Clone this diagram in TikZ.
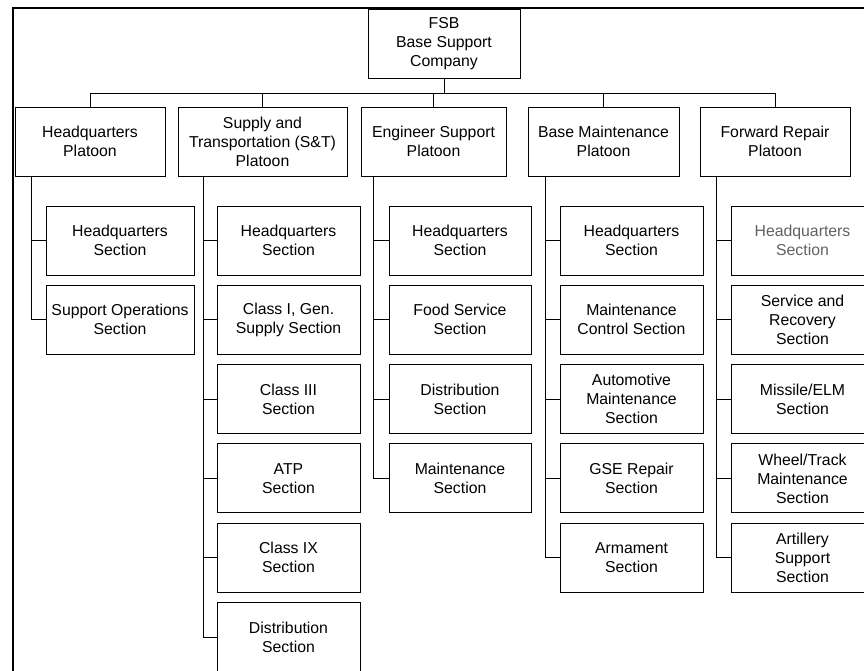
\documentclass[tikz,border=0pt]{standalone}
\usepackage{fontspec}
\setmainfont{Liberation Sans}
\begin{document}
\begin{tikzpicture}[x=1pt, y=-1pt, line width=1pt,
    every node/.style={font=\fontsize{15.8}{19}\selectfont, align=center},
    unit/.style={draw, minimum height=69pt, inner sep=1pt},
    plt/.style={unit, minimum width=150pt},
    sec/.style={unit, minimum width=143pt}]
    \useasboundingbox (0,0) rectangle (864,670);
    \clip (0,0) rectangle (864,670);

    % Frame
    \draw[line width=1.8pt] (13,680) -- (13,8) -- (880,8);

    % Company
    \node[unit, minimum width=152pt] (fsb) at (444,43.5) {FSB\\Base Support\\Company};

    % Platoons
    \node[plt] (hqp) at (90,141.5) {Headquarters\\Platoon};
    \node[plt, minimum width=169pt] (stp) at (262.5,141.5) {Supply and\\Transportation (S\&T)\\Platoon};
    \node[plt, minimum width=145pt] (esp) at (433.5,141.5) {Engineer Support\\Platoon};
    \node[plt, minimum width=151pt] (bmp) at (603.5,141.5) {Base Maintenance\\Platoon};
    \node[plt] (frp) at (775,141.5) {Forward Repair\\Platoon};

    % Headquarters platoon sections
    \node[sec, minimum width=148pt] (hq1) at (120,240.5) {Headquarters\\Section};
    \node[sec, minimum width=148pt] (hq2) at (120,319.8) {Support Operations\\Section};

    % S&T sections
    \node[sec] (st1) at (288.5,240.5) {Headquarters\\Section};
    \node[sec] (st2) at (288.5,319.8) {Class I, Gen.\\Supply Section};
    \node[sec] (st3) at (288.5,399.1) {Class III\\Section};
    \node[sec] (st4) at (288.5,478.4) {ATP\\Section};
    \node[sec] (st5) at (288.5,557.7) {Class IX\\Section};
    \node[sec] (st6) at (288.5,637) {Distribution\\Section};

    % Engineer support sections
    \node[sec, minimum width=142pt] (es1) at (460,240.5) {Headquarters\\Section};
    \node[sec, minimum width=142pt] (es2) at (460,319.8) {Food Service\\Section};
    \node[sec, minimum width=142pt] (es3) at (460,399.1) {Distribution\\Section};
    \node[sec, minimum width=142pt] (es4) at (460,478.4) {Maintenance\\Section};

    % Base maintenance sections
    \node[sec] (bm1) at (631.5,240.5) {Headquarters\\Section};
    \node[sec] (bm2) at (631.5,319.8) {Maintenance\\Control Section};
    \node[sec] (bm3) at (631.5,399.1) {Automotive\\Maintenance\\Section};
    \node[sec] (bm4) at (631.5,478.4) {GSE Repair\\Section};
    \node[sec] (bm5) at (631.5,557.7) {Armament\\Section};

    % Forward repair sections
    \node[sec, text=black!62] (fr1) at (802.5,240.5) {Headquarters\\Section};
    \node[sec] (fr2) at (802.5,319.8) {Service and\\Recovery\\Section};
    \node[sec] (fr3) at (802.5,399.1) {Missile/ELM\\Section};
    \node[sec] (fr4) at (802.5,478.4) {Wheel/Track\\Maintenance\\Section};
    \node[sec] (fr5) at (802.5,557.7) {Artillery\\Support\\Section};

    % Company to platoons
    \draw (fsb.south) -- ++(0,14.5) -| (hqp.north)
          (fsb.south) -- ++(0,14.5) -| (stp.north)
          (fsb.south) -- ++(0,14.5) -| (esp.north)
          (fsb.south) -- ++(0,14.5) -| (bmp.north)
          (fsb.south) -- ++(0,14.5) -| (frp.north);

    % Platoons to sections
    \draw (hqp.south west) ++(17,0) |- (hq1.west)
          (hqp.south west) ++(17,0) |- (hq2.west);
    \draw (stp.south west) ++(26,0) |- (st1.west)
          (stp.south west) ++(26,0) |- (st2.west)
          (stp.south west) ++(26,0) |- (st3.west)
          (stp.south west) ++(26,0) |- (st4.west)
          (stp.south west) ++(26,0) |- (st5.west)
          (stp.south west) ++(26,0) |- (st6.west);
    \draw (esp.south west) ++(13,0) |- (es1.west)
          (esp.south west) ++(13,0) |- (es2.west)
          (esp.south west) ++(13,0) |- (es3.west)
          (esp.south west) ++(13,0) |- (es4.west);
    \draw (bmp.south west) ++(18,0) |- (bm1.west)
          (bmp.south west) ++(18,0) |- (bm2.west)
          (bmp.south west) ++(18,0) |- (bm3.west)
          (bmp.south west) ++(18,0) |- (bm4.west)
          (bmp.south west) ++(18,0) |- (bm5.west);
    \draw (frp.south west) ++(17,0) |- (fr1.west)
          (frp.south west) ++(17,0) |- (fr2.west)
          (frp.south west) ++(17,0) |- (fr3.west)
          (frp.south west) ++(17,0) |- (fr4.west)
          (frp.south west) ++(17,0) |- (fr5.west);
\end{tikzpicture}
\end{document}
